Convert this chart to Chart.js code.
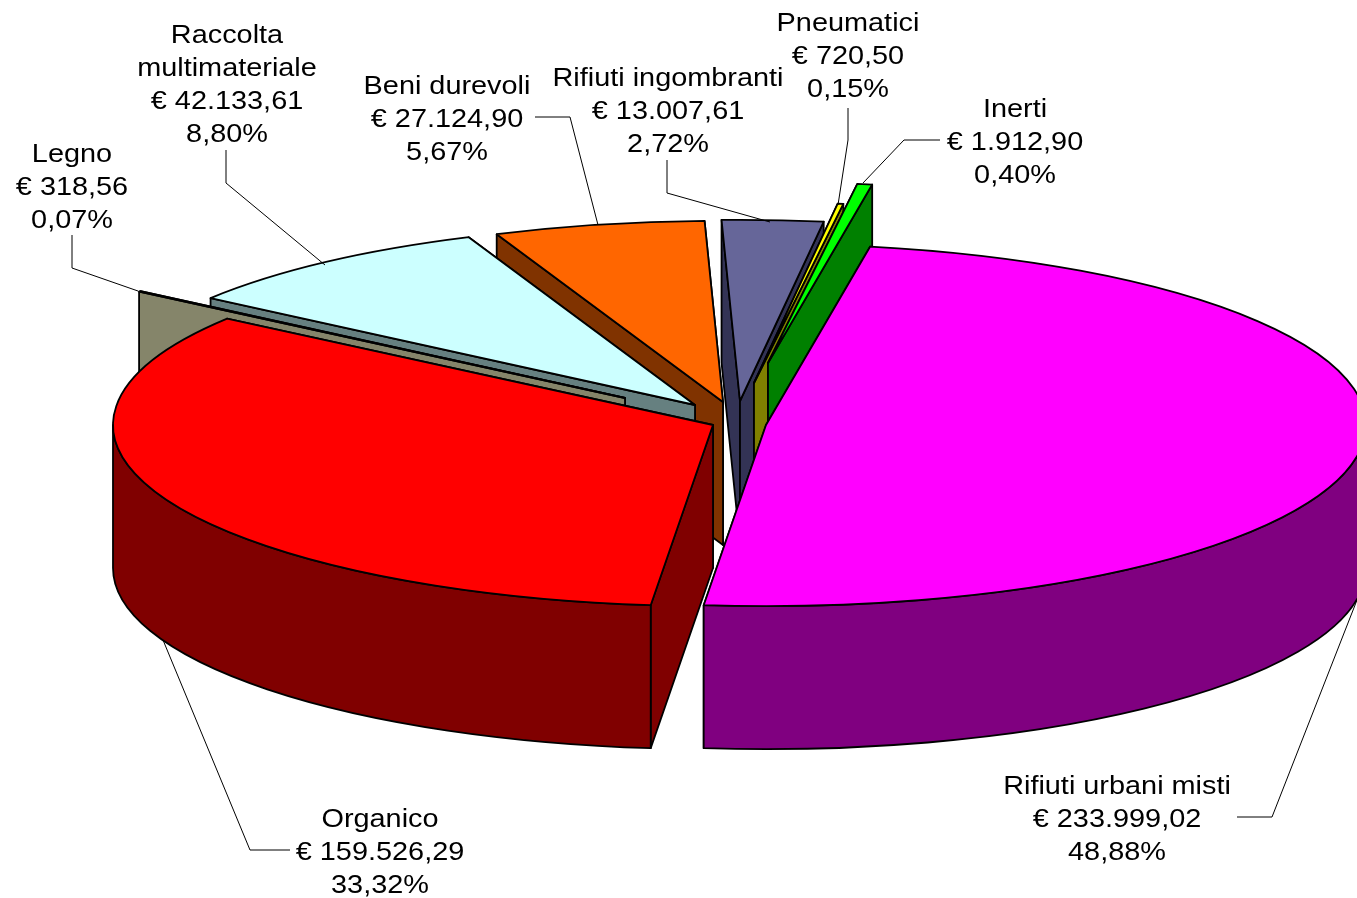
<!DOCTYPE html>
<html lang="it">
<head>
<meta charset="utf-8">
<title>Costi per tipologia di rifiuto</title>
<script src="https://cdn.jsdelivr.net/npm/chart.js@4/dist/chart.umd.js"></script>
<style>
html,body{margin:0;padding:0;background:#fff;overflow:hidden}
canvas{display:block}
</style>
</head>
<body>
<canvas id="c" width="1357" height="898"></canvas>
<script>
// Data
const categories = ['Rifiuti urbani misti','Organico','Legno','Raccolta multimateriale','Beni durevoli','Rifiuti ingombranti','Pneumatici','Inerti'];
const values = [233999.02,159526.29,318.56,42133.61,27124.90,13007.61,720.50,1912.90];
const valueLabels = ['€ 233.999,02','€ 159.526,29','€ 318,56','€ 42.133,61','€ 27.124,90','€ 13.007,61','€ 720,50','€ 1.912,90'];
const percentLabels = ['48,88%','33,32%','0,07%','8,80%','5,67%','2,72%','0,15%','0,40%'];

// Style
const topColors  = ['#FF00FF','#FF0000','#99997A','#CCFFFF','#FF6600','#666699','#FFFF00','#00FF00'];
const wallColors = ['#800080','#800000','#85856A','#668080','#803300','#333355','#808000','#008000'];
const explodeX = [28,-25,-113,-43,-15,2,16,30];
const explodeY = [2,2,-25,-18,-21,-22,-40,-60];
const paintOrder = [4,5,6,7,3,2,1,0];
const squash = 0.302, depth = 143, radius = 600, textStretch = 1.11;

// Label placement
const labelBoxes = [
  {x:1117,y:787,lines:['Rifiuti urbani misti']},
  {x:380,y:820,lines:['Organico']},
  {x:72,y:155,lines:['Legno']},
  {x:227,y:36,lines:['Raccolta','multimateriale']},
  {x:447,y:87,lines:['Beni durevoli']},
  {x:668,y:79,lines:['Rifiuti ingombranti']},
  {x:848,y:24,lines:['Pneumatici']},
  {x:1015,y:110,lines:['Inerti']}
];
const leaders = [
  [[1237,817],[1272,817],[1357,600]],
  [[290,850],[250,850],[163,640]],
  [[72,235],[72,268],[138,291]],
  [[226,150],[226,183],[325,265]],
  [[535,117],[570,117],[598,225]],
  [[667,160],[667,193],[770,222]],
  [[848,108],[848,140],[838,205]],
  [[940,140],[904,140],[863,183]]
];

class Arc3D extends Chart.ArcElement {
  static id = 'arc3d';
  draw(ctx) {
    const o = this.options;
    const i = this.$index;
    const cx = this.x + explodeX[i], cy = this.y + explodeY[i];
    const r = this.outerRadius, a = this.startAngle, b = this.endAngle;
    const ry = r * squash;
    const px = t => cx + r * Math.cos(t), py = t => cy + ry * Math.sin(t);
    ctx.save();
    ctx.lineWidth = o.borderWidth;
    ctx.strokeStyle = o.borderColor;
    ctx.lineJoin = 'round';
    ctx.fillStyle = wallColors[i];
    const paint = () => { ctx.closePath(); ctx.fill(); ctx.stroke(); };
    const radial = t => {
      ctx.beginPath();
      ctx.moveTo(cx, cy); ctx.lineTo(px(t), py(t));
      ctx.lineTo(px(t), py(t) + depth); ctx.lineTo(cx, cy + depth);
      paint();
    };
    // back-facing radial walls first, then the front-facing ones
    const startFront = Math.sin(a - Math.PI / 2) > 0;
    const endFront = Math.sin(b + Math.PI / 2) > 0;
    if (!startFront) radial(a);
    if (!endFront) radial(b);
    if (startFront) radial(a);
    if (endFront) radial(b);
    // curved outer wall, only where it faces the viewer
    const f0 = Math.max(a, 0), f1 = Math.min(b, Math.PI);
    if (f1 > f0) {
      ctx.beginPath();
      ctx.ellipse(cx, cy, r, ry, 0, f0, f1);
      ctx.ellipse(cx, cy + depth, r, ry, 0, f1, f0, true);
      paint();
    }
    // top face
    ctx.fillStyle = o.backgroundColor;
    ctx.beginPath();
    ctx.moveTo(cx, cy);
    ctx.ellipse(cx, cy, r, ry, 0, a, b);
    paint();
    ctx.restore();
  }
}

class Pie3DController extends Chart.PieController {
  static id = 'pie3d';
  static defaults = { dataElementType: 'arc3d' };
  draw() {
    const ctx = this.chart.ctx;
    const arcs = this._cachedMeta.data;
    arcs.forEach((arc, i) => { arc.$index = i; });
    paintOrder.forEach(i => arcs[i].draw(ctx));
  }
}

const labelPlugin = {
  id: 'sliceLabels',
  afterDatasetsDraw(chart) {
    const ctx = chart.ctx;
    ctx.save();
    ctx.strokeStyle = '#000';
    ctx.lineWidth = 1;
    leaders.forEach(pts => {
      ctx.beginPath();
      pts.forEach((p, j) => j ? ctx.lineTo(p[0], p[1]) : ctx.moveTo(p[0], p[1]));
      ctx.stroke();
    });
    ctx.fillStyle = '#000';
    ctx.font = '26px "Liberation Sans", Arial, sans-serif';
    ctx.textAlign = 'center';
    ctx.textBaseline = 'middle';
    labelBoxes.forEach((box, i) => {
      const lines = [...box.lines, valueLabels[i], percentLabels[i]];
      lines.forEach((t, j) => {
        ctx.save();
        ctx.translate(box.x, box.y + j * 33);
        ctx.scale(textStretch, 1);
        ctx.fillText(t, 0, 0);
        ctx.restore();
      });
    });
    ctx.restore();
  }
};

Chart.register(Arc3D, Pie3DController);

new Chart(document.getElementById('c'), {
  type: 'pie3d',
  data: {
    labels: categories,
    datasets: [{
      data: values,
      backgroundColor: topColors,
      borderColor: '#000',
      borderWidth: 1.8,
      radius: radius,
      clip: false
    }]
  },
  options: {
    responsive: false,
    animation: false,
    rotation: 10,
    layout: { padding: { left: 119, bottom: 52 } },
    events: [],
    plugins: { legend: { display: false }, tooltip: { enabled: false } }
  },
  plugins: [labelPlugin]
});
</script>
</body>
</html>
